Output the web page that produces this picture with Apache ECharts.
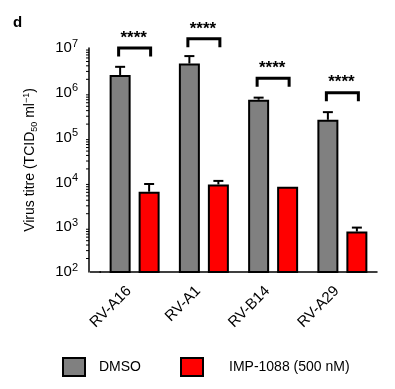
<!DOCTYPE html>
<html>
<head>
<meta charset="utf-8">
<script src="https://cdn.jsdelivr.net/npm/echarts@6/dist/echarts.min.js"></script>
<style>html,body{margin:0;padding:0;background:#fff}#c{width:395px;height:389px}</style>
</head>
<body>
<div id="c"></div>
<script>
const categories = ['RV-A16', 'RV-A1', 'RV-B14', 'RV-A29'];
const dmso = [2.5e6, 4.5e6, 7.0e5, 2.5e5];
const dmsoUpper = [3.8e6, 6.6e6, 7.8e5, 3.7e5];
const imp = [6.2e3, 9.0e3, 8.0e3, 8.0e2];
const impUpper = [9.2e3, 1.08e4, null, 9.8e2];
const bracketTop = [1.0e7, 1.6e7, 2.1e6, 1.0e6];
const sigLabels = ['****', '****', '****', '****'];
const yTicks = [1e2, 1e3, 1e4, 1e5, 1e6, 1e7];
const minorDecades = [1e2, 1e3, 1e4, 1e5, 1e6];
const minorSteps = [2, 3, 4, 5, 6, 7, 8, 9];

const FONT = 'Liberation Sans, Arial, Helvetica, sans-serif';
const BAR_W = 21, GAP = 8;
const HALF = (BAR_W + GAP) / 2;

const minorTicks = [];
minorDecades.forEach(d => minorSteps.forEach(s => minorTicks.push([0, d * s])));

const errData = [];
dmso.forEach((v, i) => errData.push([i, v, dmsoUpper[i], -1]));
imp.forEach((v, i) => { if (impUpper[i] != null) errData.push([i, v, impUpper[i], 1]); });

const legendBase = {top: 357, padding: 0, itemWidth: 22, itemHeight: 18, icon: 'rect'};

const chart = echarts.init(document.getElementById('c'), null, {renderer: 'canvas'});
chart.setOption({
  animation: false,
  backgroundColor: '#fff',
  textStyle: {fontFamily: FONT, color: '#000'},
  graphic: [
    {type: 'text', left: 13, top: 15, style: {text: 'd', font: 'bold 15px ' + FONT, fill: '#000'}},
    {type: 'line', shape: {x1: 90, y1: 272, x2: 101, y2: 272}, style: {stroke: '#000', lineWidth: 1.5}}
  ],
  legend: [
    Object.assign({}, legendBase, {left: 62, data: ['DMSO'],
      textStyle: {fontSize: 14, color: '#000', fontFamily: FONT, padding: [0, 0, 0, 9]}}),
    Object.assign({}, legendBase, {left: 180, data: ['IMP-1088 (500 nM)'],
      textStyle: {fontSize: 14, color: '#000', fontFamily: FONT, padding: [0, 0, 0, 21]}})
  ],
  grid: {left: 100, right: 18, top: 48, bottom: 117, containLabel: false},
  xAxis: {
    type: 'category', data: categories,
    axisLine: {lineStyle: {color: '#000', width: 1.5}},
    axisTick: {alignWithLabel: true, length: 5, lineStyle: {color: '#000', width: 1.2}},
    axisLabel: {rotate: 45, fontSize: 15, color: '#000', fontFamily: FONT, margin: 11, interval: 0,
      padding: [0, 8, 0, 0]}
  },
  yAxis: {
    type: 'log', logBase: 10, min: 1e2, max: 1e7, offset: 11,
    splitLine: {show: false},
    axisLine: {show: true, lineStyle: {color: '#000', width: 1.5}},
    axisTick: {length: 5, lineStyle: {color: '#000', width: 1.2}},
    minorTick: {show: false},
    axisLabel: {
      margin: 11, color: '#000', fontFamily: FONT,
      formatter: v => '{b|10}{s|' + Math.round(Math.log10(v)) + '}',
      rich: {
        b: {fontSize: 15, fontFamily: FONT, color: '#000'},
        s: {fontSize: 11, fontFamily: FONT, color: '#000', verticalAlign: 'top', padding: [0, 0, 9, 0]}
      }
    },
    name: '{n|Virus titre (TCID}{sub|50}{n| ml}{sup|−1}{n|)}',
    nameLocation: 'middle', nameGap: 50, nameRotate: 90,
    nameTextStyle: {
      rich: {
        n: {fontSize: 14, fontFamily: FONT, color: '#000'},
        sub: {fontSize: 9, fontFamily: FONT, color: '#000', padding: [8, 0, 0, 0]},
        sup: {fontSize: 9, fontFamily: FONT, color: '#000', padding: [0, 0, 8, 0]}
      }
    }
  },
  series: [
    {
      name: 'DMSO', type: 'bar', data: dmso, barWidth: BAR_W, barGap: (GAP / BAR_W * 100) + '%',
      itemStyle: {color: '#808080', borderColor: '#000', borderWidth: 2}
    },
    {
      name: 'IMP-1088 (500 nM)', type: 'bar', data: imp, barWidth: BAR_W,
      itemStyle: {color: '#ff0000', borderColor: '#000', borderWidth: 2}
    },
    {
      type: 'custom', data: errData, clip: false, z: 1,
      renderItem: (params, api) => {
        const x = api.coord([api.value(0), api.value(1)])[0] + api.value(3) * HALF;
        const y0 = api.coord([api.value(0), api.value(1)])[1];
        const y1 = api.coord([api.value(0), api.value(2)])[1];
        return {type: 'group', children: [
          {type: 'line', shape: {x1: x, y1: y0, x2: x, y2: y1}, style: {stroke: '#000', lineWidth: 2}},
          {type: 'line', shape: {x1: x - 5, y1: y1, x2: x + 5, y2: y1}, style: {stroke: '#000', lineWidth: 2}}
        ]};
      }
    },
    {
      type: 'custom', data: bracketTop.map((v, i) => [i, v]), clip: false,
      renderItem: (params, api) => {
        const p = api.coord([api.value(0), api.value(1)]);
        const x = p[0], y = p[1], h = 16;
        return {type: 'group', children: [
          {type: 'polyline', shape: {points: [[x - h, y + 8.5], [x - h, y], [x + h, y], [x + h, y + 8.5]]},
            style: {stroke: '#000', lineWidth: 3, fill: null}},
          {type: 'text', x: x - 1, y: y - 10, style: {text: sigLabels[params.dataIndex], font: 'bold 17px ' + FONT,
            fill: '#000', align: 'center', verticalAlign: 'middle'}}
        ]};
      }
    },
    {
      type: 'custom', data: minorTicks, clip: false, silent: true,
      renderItem: (params, api) => {
        const y = api.coord([0, api.value(1)])[1];
        const x = params.coordSys.x - 11;
        return {type: 'line', shape: {x1: x - 3, y1: y, x2: x, y2: y}, style: {stroke: '#000', lineWidth: 1}};
      }
    }
  ]
});
</script>
</body>
</html>
